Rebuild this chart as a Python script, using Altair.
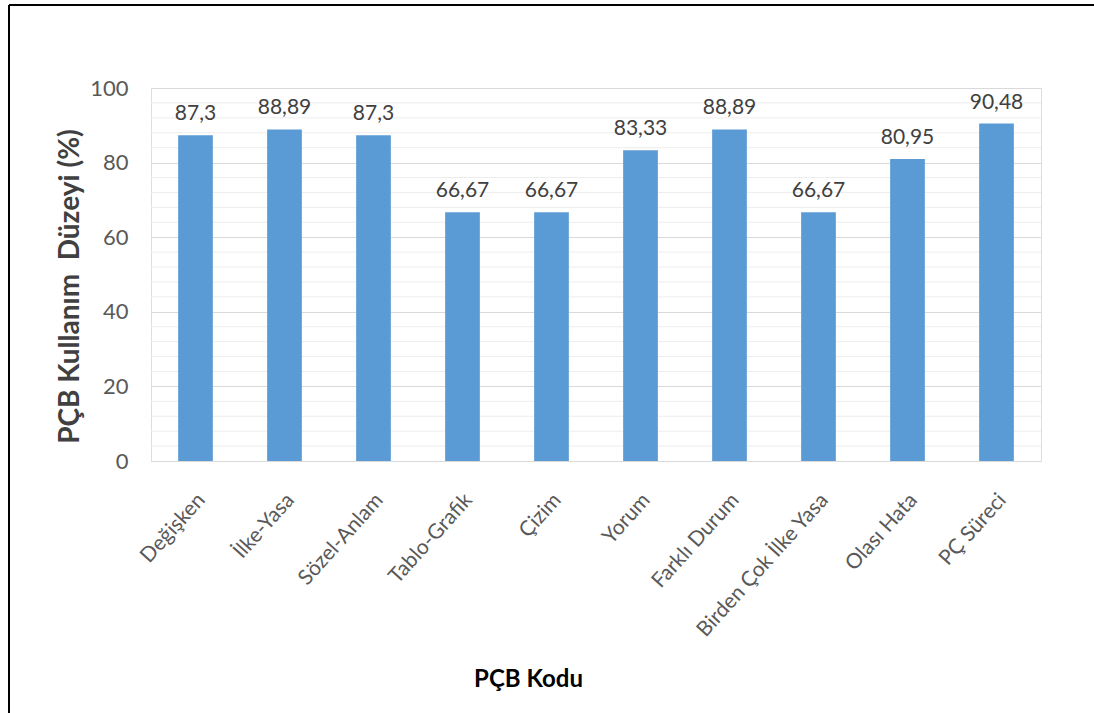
import altair as alt
import pandas as pd

categories = ["Değişken", "İlke-Yasa", "Sözel-Anlam", "Tablo-Grafik", "Çizim",
              "Yorum", "Farklı Durum", "Birden Çok İlke Yasa", "Olası Hata", "PÇ Süreci"]
values = [87.3, 88.89, 87.3, 66.67, 66.67, 83.33, 88.89, 66.67, 80.95, 90.48]
value_labels = ["87,3", "88,89", "87,3", "66,67", "66,67", "83,33", "88,89", "66,67", "80,95", "90,48"]
minor_grid = [v for v in range(4, 100, 4) if v % 20 != 0]

df = pd.DataFrame({"kod": categories, "deger": values, "etiket": value_labels})
grid_df = pd.DataFrame({"g": minor_grid})

FONT = "Lato"
W, H = 890, 373
LEFT, TOP = 151, 88

xscale = alt.Scale(domain=categories, paddingInner=0.61, paddingOuter=0.305)
yscale = alt.Scale(domain=[0, 100])

minor = alt.Chart(grid_df).mark_rule(color="#EDEDED", strokeWidth=1).encode(
    y=alt.Y("g:Q", scale=yscale)
)

bars = alt.Chart(df).mark_bar(color="#5B9BD5").encode(
    x=alt.X("kod:N", scale=xscale, sort=categories,
            axis=alt.Axis(title="PÇB Kodu", labelAngle=-48, labelFont=FONT, labelFontSize=21,
                          labelColor="#595959", ticks=False, domainColor="#D9D9D9",
                          labelAlign="right", labelBaseline="top", labelLimit=0,
                          labelPadding=28, labelOffset=-2, titleFont=FONT, titleFontSize=24,
                          titleFontWeight="bold", titleColor="#000000",
                          titleX=377, titleY=218, titleAlign="center",
                          titleBaseline="middle", labelOverlap=False)),
    y=alt.Y("deger:Q", scale=yscale,
            axis=alt.Axis(title="PÇB Kullanım \u00a0Düzeyi (%)", values=[0, 20, 40, 60, 80, 100],
                          labelFont=FONT, labelFontSize=22, labelColor="#595959",
                          ticks=False, domain=False, gridColor="#D9D9D9",
                          labelPadding=23, titleFont=FONT, titleFontSize=28,
                          titleFontWeight="bold", titleColor="#404040",
                          titleX=-81, titleY=198, titleAlign="center",
                          titleBaseline="middle", titleAngle=270)),
)

text = alt.Chart(df).mark_text(font=FONT, fontSize=21, color="#404040", dy=-15,
                               baseline="alphabetic").encode(
    x=alt.X("kod:N", scale=xscale, sort=categories),
    y=alt.Y("deger:Q", scale=yscale),
    text="etiket:N",
)

border_top = alt.Chart(df).mark_rule(color="#000000", strokeWidth=2).encode(
    x=alt.value(9 - LEFT), x2=alt.value(1094 - LEFT), y=alt.value(5 - TOP)
)
border_left = alt.Chart(df).mark_rule(color="#000000", strokeWidth=2).encode(
    x=alt.value(9 - LEFT), y=alt.value(5 - TOP), y2=alt.value(713 - TOP)
)

chart = alt.layer(minor, bars, text, border_top, border_left).properties(
    width=W, height=H,
    autosize=alt.AutoSizeParams(type="none"),
    padding={"left": LEFT, "top": TOP, "right": 1094 - LEFT - W, "bottom": 713 - TOP - H},
).configure_view(stroke=None).configure(background="#FFFFFF")

chart.save("out.html", embed_options={"renderer": "svg", "actions": False})
